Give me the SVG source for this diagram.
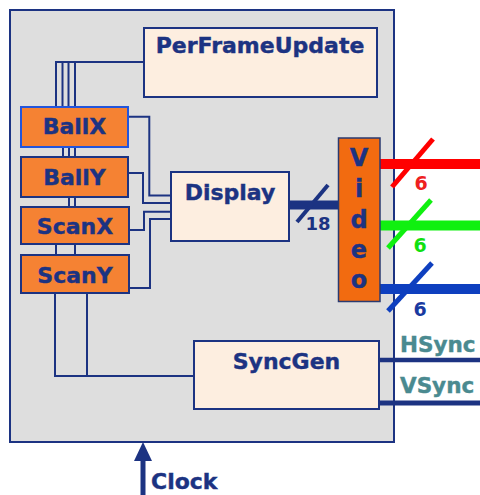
<svg xmlns="http://www.w3.org/2000/svg" width="480" height="495" viewBox="0 0 480 495">
<style>
.w{fill:none;stroke:#1c3382;stroke-width:2}
.pe{fill:#fdeee0;stroke:#1c3382;stroke-width:2}
.or{fill:#f58233;stroke:#1c3382;stroke-width:2}
.t{font-family:"DejaVu Sans",Verdana,sans-serif;font-weight:bold;font-size:22px;fill:#1c3382;stroke:#1c3382;stroke-width:0.4;text-anchor:middle}
.v{font-size:24px}
.n{font-family:"DejaVu Sans",Verdana,sans-serif;font-weight:bold;font-size:19px;text-anchor:middle}
.s{font-family:"DejaVu Sans",Verdana,sans-serif;font-weight:bold;font-size:21.5px;fill:#4a8a90;stroke:#4a8a90;stroke-width:0.4}
</style>
<rect width="480" height="495" fill="#ffffff"/>
<g id="outer"><rect x="10" y="10" width="384" height="432" fill="#dedede" stroke="#1c3382" stroke-width="2"/></g>
<g id="connectors">
<path class="w" d="M144,62 H56 V107 M62.5,62 V107 M68.5,62 V107 M75,62 V107"/>
<path class="w" d="M63,147 V157 M69,147 V157 M75,147 V157"/>
<path class="w" d="M69,197 V207 M75,197 V207"/>
<path class="w" d="M56,244 V255 M75,244 V255"/>
<path class="w" d="M55,293 V376 H194 M87,293 V376"/>
<path class="w" d="M128,116.7 H149.3 V195.5 H171"/>
<path class="w" d="M128,173 H143 V203 H171"/>
<path class="w" d="M129,230 H144 V211.7 H171"/>
<path class="w" d="M129,288 H150 V219 H171"/>
<path d="M289,205 H338" stroke="#1c3382" stroke-width="9"/>
<path d="M297,222 L328,185" stroke="#1c3382" stroke-width="4"/>
<text class="n" x="318" y="230" fill="#1c3382" style="font-size:18px">18</text>
<path d="M380,164 H480" stroke="#ff0000" stroke-width="10"/>
<path d="M392,187 L433,139" stroke="#ff0000" stroke-width="5"/>
<text class="n" x="421" y="190" fill="#ee2020">6</text>
<path d="M380,225.5 H480" stroke="#10f010" stroke-width="10"/>
<path d="M388,248 L431,200" stroke="#10f010" stroke-width="5"/>
<text class="n" x="420" y="252" fill="#10e010">6</text>
<path d="M380,289 H480" stroke="#0e3fbf" stroke-width="10"/>
<path d="M388,311 L432,263" stroke="#0e3fbf" stroke-width="5"/>
<text class="n" x="420" y="316" fill="#1a3aa0">6</text>
<path d="M379,360 H480" stroke="#1c3382" stroke-width="4.5"/>
<path d="M379,403 H480" stroke="#1c3382" stroke-width="5"/>
<text class="s" x="400" y="352">HSync</text>
<text class="s" x="400" y="393">VSync</text>
<path d="M143,495 V456" stroke="#1c3382" stroke-width="5"/>
<polygon points="143,442 134,461 152,461" fill="#1c3382"/>
<text class="t" x="151" y="489" style="text-anchor:start">Clock</text>
</g>
<g id="perframeupdate"><rect class="pe" x="144" y="28" width="233" height="69"/><text class="t" x="260" y="53">PerFrameUpdate</text></g>
<g id="ballx"><rect class="or" x="21" y="107" width="107" height="40" style="stroke:#2255dd"/><text class="t" x="74.5" y="134">BallX</text></g>
<g id="bally"><rect class="or" x="21" y="157" width="107" height="40"/><text class="t" x="74.5" y="185">BallY</text></g>
<g id="scanx"><rect class="or" x="21" y="207" width="108" height="37"/><text class="t" x="75" y="234">ScanX</text></g>
<g id="scany"><rect class="or" x="21" y="255" width="108" height="38"/><text class="t" x="75" y="283">ScanY</text></g>
<g id="display"><rect class="pe" x="171" y="172" width="118" height="69"/><text class="t" x="230" y="200">Display</text></g>
<g id="video"><rect x="338.5" y="138" width="41.5" height="163.5" fill="#f26b10" stroke="#2a3a70" stroke-width="1.5"/>
<text class="t v" x="359" y="166">V</text>
<text class="t v" x="359" y="197">i</text>
<text class="t v" x="359" y="228">d</text>
<text class="t v" x="359" y="258">e</text>
<text class="t v" x="359" y="288">o</text></g>
<g id="syncgen"><rect class="pe" x="194" y="341" width="185" height="68"/><text class="t" x="286.5" y="369">SyncGen</text></g>
</svg>
